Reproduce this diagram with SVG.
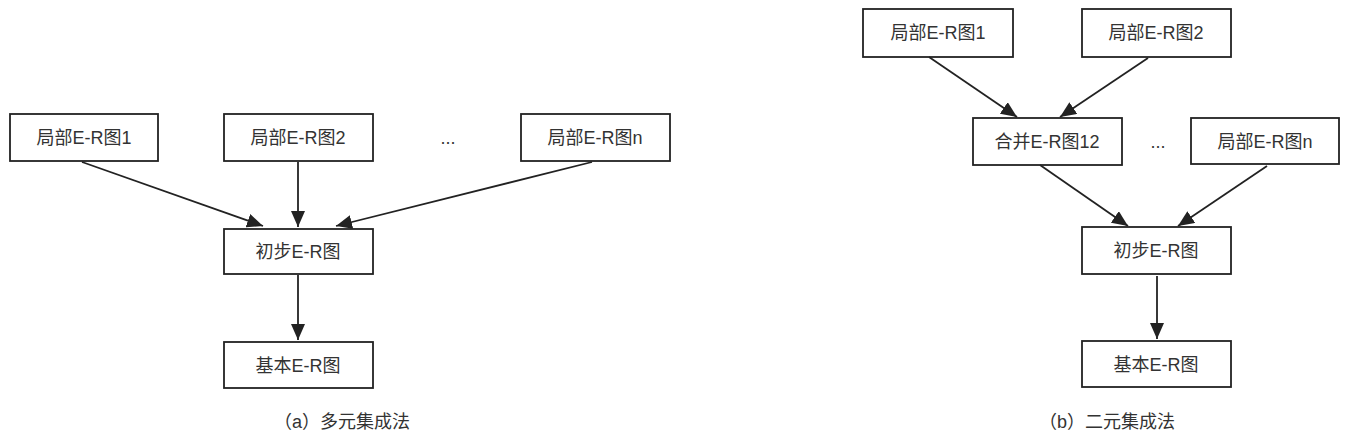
<svg xmlns="http://www.w3.org/2000/svg" width="1350" height="443" viewBox="0 0 1350 443">
<style>
.box{fill:#fff;stroke:#222;stroke-width:1.8}
.t{font-family:"Liberation Sans","Noto Sans CJK SC",sans-serif;font-size:18px;fill:#333;text-anchor:middle}
.c{stroke:#222;stroke-width:1.8;fill:none;marker-end:url(#ah)}
</style>
<defs>
<marker id="ah" markerUnits="userSpaceOnUse" markerWidth="16" markerHeight="14" viewBox="0 0 16 14" refX="16" refY="7" orient="auto">
<path d="M0,0 L16,7 L0,14 Z" fill="#222"/>
</marker>
</defs>
<rect width="1350" height="443" fill="#fff"/>
<g id="a-n1"><rect class="box" x="10" y="114" width="148" height="47"/><text class="t" x="84" y="144">局部E-R图1</text></g>
<g id="a-n2"><rect class="box" x="224" y="114" width="149" height="47"/><text class="t" x="298" y="144">局部E-R图2</text></g>
<g id="a-dots"><text class="t" x="448" y="144">...</text></g>
<g id="a-nn"><rect class="box" x="521" y="114" width="149" height="47"/><text class="t" x="595" y="144">局部E-R图n</text></g>
<g id="a-init"><rect class="box" x="224" y="229" width="149" height="45"/><text class="t" x="298" y="258">初步E-R图</text></g>
<g id="a-basic"><rect class="box" x="224" y="342" width="149" height="46"/><text class="t" x="298" y="372">基本E-R图</text></g>
<g id="a-cap"><text class="t" x="342" y="428">（a）多元集成法</text></g>

<g id="b-n1"><rect class="box" x="863" y="9" width="150" height="48"/><text class="t" x="938" y="39">局部E-R图1</text></g>
<g id="b-n2"><rect class="box" x="1082" y="9" width="149" height="48"/><text class="t" x="1156" y="39">局部E-R图2</text></g>
<g id="b-m12"><rect class="box" x="973" y="118" width="149" height="47"/><text class="t" x="1047" y="148">合并E-R图12</text></g>
<g id="b-dots"><text class="t" x="1158" y="148">...</text></g>
<g id="b-nn"><rect class="box" x="1191" y="118" width="148" height="46"/><text class="t" x="1265" y="148">局部E-R图n</text></g>
<g id="b-init"><rect class="box" x="1082" y="227" width="149" height="47"/><text class="t" x="1156" y="257">初步E-R图</text></g>
<g id="b-basic"><rect class="box" x="1082" y="341" width="149" height="46"/><text class="t" x="1156" y="371">基本E-R图</text></g>
<g id="b-cap"><text class="t" x="1107" y="428">（b）二元集成法</text></g>

<g id="connectors">
<line class="c" x1="82" y1="162" x2="263" y2="226"/>
<line class="c" x1="298" y1="162" x2="298" y2="227"/>
<line class="c" x1="592" y1="162" x2="336" y2="226"/>
<line class="c" x1="298" y1="275" x2="298" y2="340"/>
<line class="c" x1="929" y1="57" x2="1017" y2="117"/>
<line class="c" x1="1148" y1="58" x2="1060" y2="117"/>
<line class="c" x1="1040" y1="165" x2="1128" y2="226"/>
<line class="c" x1="1267" y1="166" x2="1178" y2="226"/>
<line class="c" x1="1157" y1="276" x2="1157" y2="339"/>
</g>
</svg>
